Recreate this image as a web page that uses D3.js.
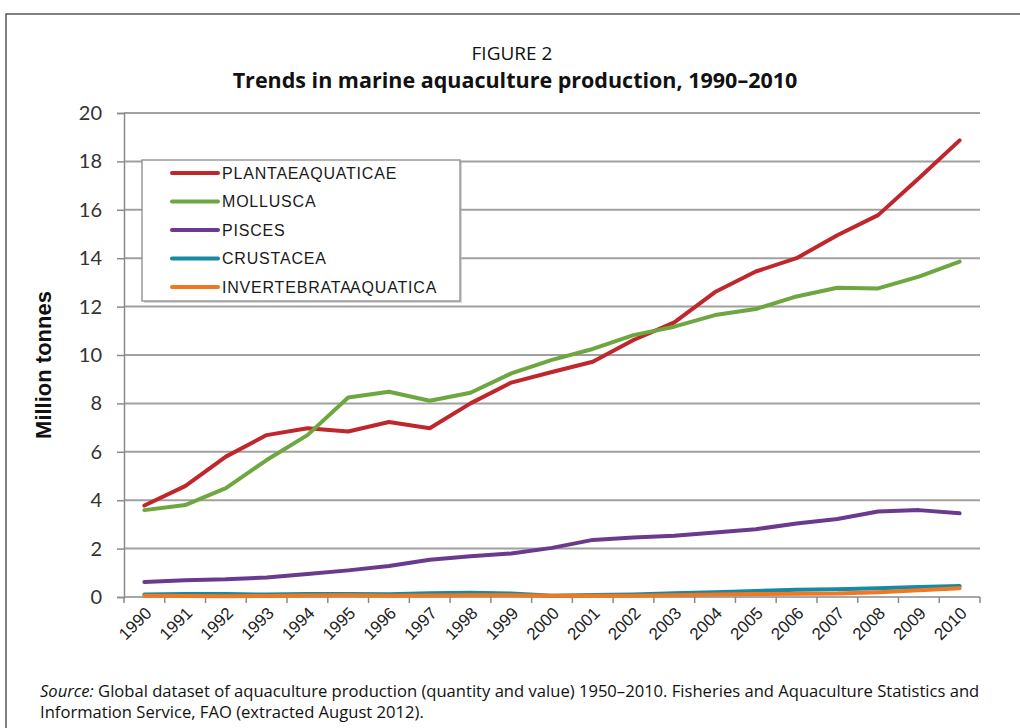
<!DOCTYPE html>
<html><head><meta charset="utf-8">
<script src="https://cdn.jsdelivr.net/npm/d3@7"></script>
<style>
html,body{margin:0;padding:0;background:#fff;}
svg{display:block;}
</style></head>
<body>
<svg id="chart" width="1020" height="728"></svg>
<script>
const years = ["1990","1991","1992","1993","1994","1995","1996","1997","1998","1999","2000","2001","2002","2003","2004","2005","2006","2007","2008","2009","2010"];
const plantae = [3.78,4.58,5.8,6.69,6.97,6.84,7.23,6.97,8.0,8.86,9.3,9.72,10.62,11.35,12.6,13.45,14.0,14.95,15.78,17.3,18.87];
const mollusca = [3.59,3.8,4.5,5.66,6.69,8.24,8.48,8.11,8.44,9.24,9.8,10.25,10.82,11.17,11.65,11.9,12.42,12.78,12.75,13.24,13.86];
const pisces = [0.62,0.69,0.73,0.81,0.95,1.1,1.28,1.54,1.68,1.8,2.03,2.36,2.46,2.53,2.67,2.8,3.04,3.22,3.53,3.59,3.46];
const crustacea = [0.1,0.12,0.12,0.1,0.12,0.12,0.11,0.15,0.18,0.14,0.05,0.08,0.1,0.15,0.2,0.25,0.3,0.32,0.36,0.41,0.45];
const invertebrata = [0.05,0.04,0.03,0.04,0.06,0.07,0.05,0.06,0.07,0.07,0.05,0.05,0.05,0.07,0.1,0.12,0.13,0.14,0.2,0.28,0.36];
const seriesNames = ["PLANTAE AQUATICAE","MOLLUSCA","PISCES","CRUSTACEA","INVERTEBRATA AQUATICA"];
const seriesColors = ["#c0272d","#6ea640","#6a3a8e","#1689a3","#f07822"];
const yTicks = [0,2,4,6,8,10,12,14,16,18,20];
const figureLabel = "FIGURE 2";
const titleText = "Trends in marine aquaculture production, 1990–2010";
const yAxisLabel = "Million tonnes";

const seriesValues = [plantae, mollusca, pisces, crustacea, invertebrata];

const svg = d3.select("#chart");

// outer frame
svg.append("path").attr("d","M6,740 L6,14 L1030,14")
  .attr("fill","none").attr("stroke","#555").attr("stroke-width",1.5);

const x = d3.scaleBand().domain(years).range([124, 980]).padding(0);
const y = d3.scaleLinear().domain([0,20]).range([597,113]);
const cx = d => x(d) + x.bandwidth()/2;

// gridlines
svg.append("g").selectAll("line").data(yTicks.filter(t=>t>0)).join("line")
  .attr("x1",124).attr("x2",980)
  .attr("y1",d=>y(d)).attr("y2",d=>y(d))
  .attr("stroke","#a0a0a0").attr("stroke-width",2);

// y axis
const yAxis = svg.append("g").attr("transform","translate(124,0)")
  .call(d3.axisLeft(y).tickValues(yTicks).tickSize(7).tickPadding(15).tickFormat(d3.format("d")));
yAxis.select(".domain").attr("stroke","#8a8a8a").attr("stroke-width",1.5);
yAxis.selectAll(".tick line").attr("stroke","#8a8a8a").attr("stroke-width",1.5);
yAxis.selectAll(".tick text").attr("font-family","Lato, 'Open Sans', sans-serif")
  .attr("font-size",20).attr("fill","#333");

// x axis
const xg = svg.append("g");
xg.append("line").attr("x1",124).attr("x2",980).attr("y1",y(0)).attr("y2",y(0))
  .attr("stroke","#8a8a8a").attr("stroke-width",1.5);
const tickPos = years.map(d=>x(d)).concat([x.range()[1]]);
xg.selectAll("line.t").data(tickPos).join("line").attr("class","t")
  .attr("x1",d=>d).attr("x2",d=>d).attr("y1",y(0)).attr("y2",y(0)+6)
  .attr("stroke","#8a8a8a").attr("stroke-width",1.5);
xg.selectAll("text").data(years).join("text")
  .attr("transform",d=>`translate(${cx(d)+4},${y(0)+13}) rotate(-45)`)
  .attr("text-anchor","end").attr("dy","0.35em")
  .attr("font-family","Arial, 'Liberation Sans', sans-serif").attr("font-size",17)
  .attr("fill","#222").text(d=>d);

// lines
const line = d3.line().x((v,i)=>cx(years[i])).y(v=>y(v));
svg.append("g").selectAll("path").data(seriesValues).join("path")
  .attr("d",d=>line(d)).attr("fill","none")
  .attr("stroke",(d,i)=>seriesColors[i]).attr("stroke-width",4)
  .attr("stroke-linecap","round").attr("stroke-linejoin","round");

// legend
const lg = svg.append("g");
lg.append("rect").attr("x",144).attr("y",162).attr("width",318).attr("height",141)
  .attr("fill","#bbb").attr("opacity",0.6);
lg.append("rect").attr("x",142).attr("y",160).attr("width",318).attr("height",141)
  .attr("fill","#fff").attr("stroke","#8a8a8a").attr("stroke-width",1.3);
const ly = d3.scalePoint().domain(seriesNames).range([173,287]);
const items = lg.selectAll("g.it").data(seriesNames).join("g").attr("class","it");
items.append("line").attr("x1",172).attr("x2",218)
  .attr("y1",d=>ly(d)).attr("y2",d=>ly(d))
  .attr("stroke",(d,i)=>seriesColors[i]).attr("stroke-width",4).attr("stroke-linecap","round");
items.append("text").attr("x",222).attr("y",d=>ly(d)).attr("dy","0.36em")
  .attr("font-family","Arial, 'Liberation Sans', sans-serif").attr("font-size",16)
  .attr("letter-spacing","0.8px").attr("word-spacing","-5px").attr("fill","#1a1a1a").text(d=>d);

// y label
svg.append("text").attr("transform","translate(51,365) rotate(-90)")
  .attr("text-anchor","middle").attr("font-family","Arial, 'Liberation Sans', sans-serif")
  .attr("font-weight","bold").attr("font-size",22).attr("fill","#111").text(yAxisLabel);

// titles
svg.append("text").attr("x",512).attr("y",60).attr("text-anchor","middle")
  .attr("font-family","'Open Sans', sans-serif").attr("font-size",19).attr("fill","#111")
  .text(figureLabel);
svg.append("text").attr("x",515).attr("y",88).attr("text-anchor","middle")
  .attr("font-family","'Open Sans', sans-serif").attr("font-weight","bold").attr("font-size",21.5)
  .attr("fill","#111").text(titleText);

// source
const src = svg.append("text").attr("x",40).attr("y",697)
  .attr("font-family","'Open Sans', sans-serif").attr("font-size",16.6).attr("fill","#111");
src.append("tspan").attr("font-style","italic").text("Source:");
src.append("tspan").text(" Global dataset of aquaculture production (quantity and value) 1950–2010. Fisheries and Aquaculture Statistics and");
svg.append("text").attr("x",40).attr("y",718)
  .attr("font-family","'Open Sans', sans-serif").attr("font-size",16.6).attr("fill","#111")
  .text("Information Service, FAO (extracted August 2012).");
</script>
</body></html>
